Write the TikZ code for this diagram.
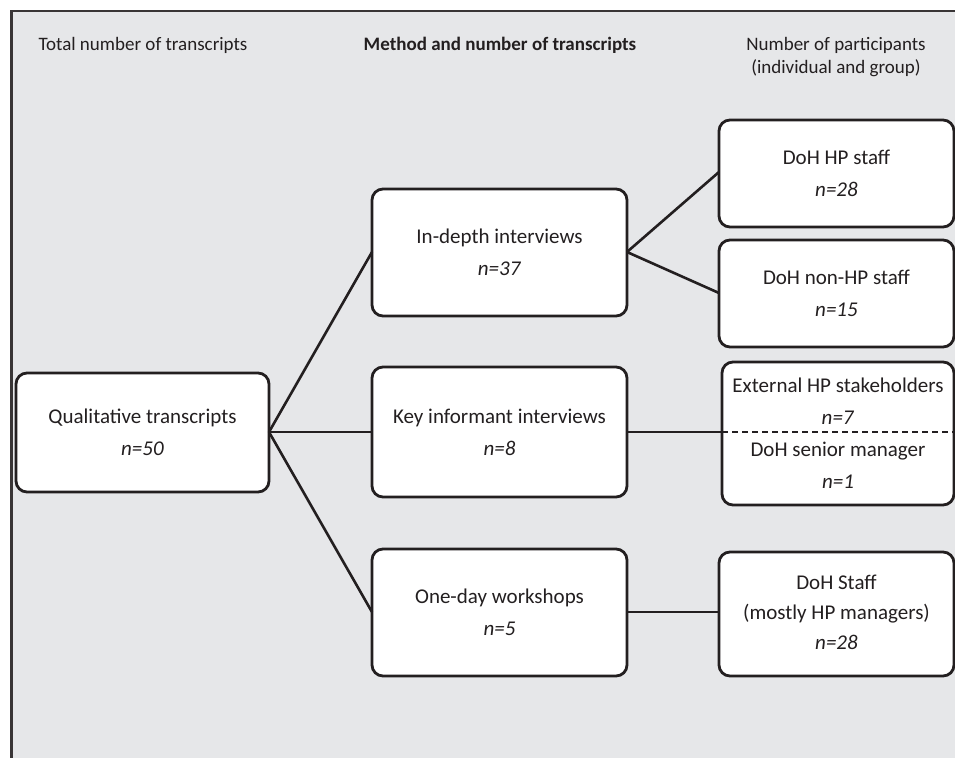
\documentclass[tikz,border=0pt]{standalone}
\usepackage{fontspec}
\setmainfont{Carlito}
\definecolor{panel}{RGB}{230,231,233}
\definecolor{inkc}{RGB}{35,31,32}
\begin{document}
\begin{tikzpicture}[x=1pt,y=-1pt,
  ink/.style={draw=inkc, line width=2.8pt},
  box/.style={ink, fill=white, rounded corners=11pt},
  txt/.style={font=\fontsize{21}{32}\selectfont, align=center, text=inkc, inner sep=0pt},
  head/.style={font=\fontsize{19}{23}\selectfont, align=center, text=inkc, inner sep=0pt},
  link/.style={ink, line width=2.6pt}]
\useasboundingbox (0,0) rectangle (955,758);
% panel background and frame
\fill[panel] (11,11) rectangle (955,758);
\draw[inkc!90, line width=1.8pt] (955,11) -- (11,11);
\draw[inkc!90, line width=3pt] (11,10.1) -- (11,758);

% column headings
\node[head] (h1) at (143,45) {Total number of transcripts};
\node[head, font=\fontsize{19}{23}\selectfont\bfseries] (h2) at (500,45) {Method and number of transcripts};
\node[head] (h3) at (836,57) {Number of participants\\ (individual and group)};

% boxes
\draw[box] (16,373) rectangle (269,492);
\node[txt] (qual) at (142.5,432) {Qualitative transcripts\\ \textit{n=50}};
\coordinate (qualR) at (269,432);

\draw[box] (372,189) rectangle (627,316);
\node[txt] (idi) at (499.5,252) {In-depth interviews\\ \textit{n=37}};
\coordinate (idiL) at (372,252);
\coordinate (idiR) at (627,252);

\draw[box] (372,367) rectangle (627,497);
\node[txt] (kii) at (499.5,432) {Key informant interviews\\ \textit{n=8}};
\coordinate (kiiL) at (372,432);
\coordinate (kiiR) at (627,432);

\draw[box] (372,549) rectangle (627,676);
\node[txt] (ws) at (499.5,612) {One-day workshops\\ \textit{n=5}};
\coordinate (wsL) at (372,612);
\coordinate (wsR) at (627,612);

\draw[box] (719,120) rectangle (954,227);
\node[txt] (hp) at (836.5,173) {DoH HP staff\\ \textit{n=28}};
\coordinate (hpL) at (719,172);

\draw[box] (719,240) rectangle (954,347);
\node[txt] (nhp) at (836.5,293) {DoH non-HP staff\\ \textit{n=15}};
\coordinate (nhpL) at (719,293);

\draw[box] (722,362) rectangle (954,505);
\draw[ink, line width=1.8pt, dash pattern=on 6pt off 4pt] (722,432) -- (954,432);
\node[txt] (ext) at (838,401) {External HP stakeholders\\ \textit{n=7}};
\node[txt] (sen) at (838,465) {DoH senior manager\\ \textit{n=1}};
\coordinate (extL) at (722,432);

\draw[box] (719,552) rectangle (954,676);
\node[txt, font=\fontsize{21}{30}\selectfont] (staff) at (836.5,612) {DoH Staff\\ (mostly HP managers)\\ \textit{n=28}};
\coordinate (staffL) at (719,612);

% connectors
\draw[link] (qualR) -- (idiL);
\draw[link] (qualR) -- (kiiL);
\draw[link] (qualR) -- (wsL);
\draw[link] (idiR) -- (hpL);
\draw[link] (idiR) -- (nhpL);
\draw[link] (kiiR) -- (extL);
\draw[link] (wsR) -- (staffL);
\end{tikzpicture}
\end{document}
